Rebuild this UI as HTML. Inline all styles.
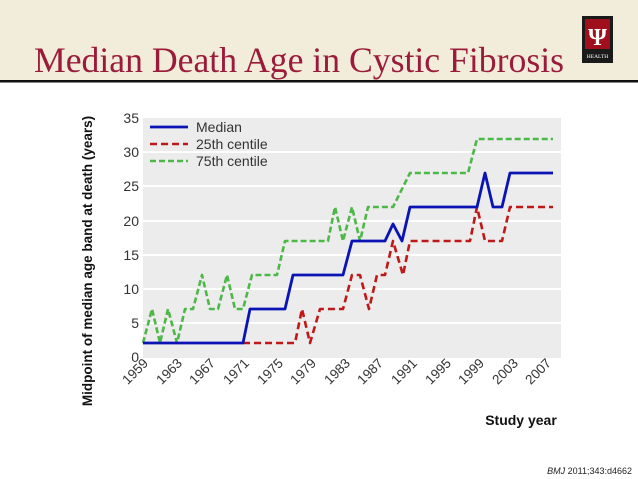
<!DOCTYPE html>
<html><head><meta charset="utf-8"><style>
html,body{margin:0;padding:0;width:638px;height:479px;overflow:hidden;background:#fff;}
</style></head><body>
<svg width="638" height="479" xmlns="http://www.w3.org/2000/svg" style="position:absolute;left:0;top:0">
<rect x="0" y="0" width="638" height="80" fill="#f2ecda"/>
<rect x="0" y="80" width="638" height="2.5" fill="#111"/>
<text x="34" y="72" font-family="Liberation Serif, serif" font-size="35.5" fill="#9b1b3a" textLength="530" lengthAdjust="spacingAndGlyphs">Median Death Age in Cystic Fibrosis</text>
<rect x="582" y="16" width="31" height="47" fill="#1a1a1a"/>
<rect x="585" y="19" width="25" height="30" fill="#a0101c"/>
<text x="597.5" y="45" text-anchor="middle" font-family="Liberation Serif, serif" font-weight="bold" font-size="24" fill="#fff">Ψ</text>
<text x="597.5" y="58" text-anchor="middle" font-family="Liberation Serif, serif" font-size="5.5" fill="#fff">HEALTH</text>

<rect x="143" y="118" width="418" height="240" fill="#ececec"/>
<g stroke="#fff" stroke-width="2">
<line x1="143" x2="561" y1="323" y2="323"/><line x1="143" x2="561" y1="289" y2="289"/>
<line x1="143" x2="561" y1="255" y2="255"/><line x1="143" x2="561" y1="221" y2="221"/>
<line x1="143" x2="561" y1="186" y2="186"/><line x1="143" x2="561" y1="152" y2="152"/>
</g>
<g font-family="Liberation Sans, sans-serif" font-size="14" fill="#333" text-anchor="end">
<text x="139" y="362">0</text><text x="139" y="328">5</text><text x="139" y="294">10</text>
<text x="139" y="260">15</text><text x="139" y="226">20</text><text x="139" y="191">25</text>
<text x="139" y="157">30</text><text x="139" y="123">35</text>
</g>
<g font-family="Liberation Sans, sans-serif" font-size="13.5" fill="#333" text-anchor="end">
<text transform="translate(149,364) rotate(-45)">1959</text>
<text transform="translate(183,364) rotate(-45)">1963</text>
<text transform="translate(216,364) rotate(-45)">1967</text>
<text transform="translate(250,364) rotate(-45)">1971</text>
<text transform="translate(284,364) rotate(-45)">1975</text>
<text transform="translate(317,364) rotate(-45)">1979</text>
<text transform="translate(351,364) rotate(-45)">1983</text>
<text transform="translate(384,364) rotate(-45)">1987</text>
<text transform="translate(418,364) rotate(-45)">1991</text>
<text transform="translate(452,364) rotate(-45)">1995</text>
<text transform="translate(485,364) rotate(-45)">1999</text>
<text transform="translate(519,364) rotate(-45)">2003</text>
<text transform="translate(552,364) rotate(-45)">2007</text>
</g>
<text transform="translate(92,261) rotate(-90)" text-anchor="middle" font-family="Liberation Sans, sans-serif" font-weight="bold" font-size="13.5" fill="#111">Midpoint of median age band at death (years)</text>
<text x="521" y="425" text-anchor="middle" font-family="Liberation Sans, sans-serif" font-weight="bold" font-size="14" fill="#111">Study year</text>
<text x="632" y="474" text-anchor="end" font-family="Liberation Sans, sans-serif" font-size="9" fill="#222"><tspan font-style="italic">BMJ</tspan> 2011;343:d4662</text>

<g fill="none" stroke-width="2.6" stroke-linejoin="round">
<polyline stroke="#4db848" stroke-dasharray="6,3" points="143,343 152,309 160,343 168,309 177,343 185,309 193,309 202,275 210,309 218,309 227,275 235,309 243,309 252,275 277,275 285,241 328,241 335,207 343,241 352,207 360,241 368,207 393,207 410,173 468,173 477,139 553,139"/>
<polyline stroke="#c01818" stroke-dasharray="7,4" points="243,343 295,343 302,309 310,343 320,309 343,309 352,275 360,275 369,309 377,275 385,275 393,241 403,275 410,241 470,241 477,207 485,241 502,241 510,207 553,207"/>
<polyline stroke="#0a14b4" stroke-width="2.8" points="143,343 243,343 250,309 285,309 293,275 343,275 352,241 385,241 393,224 402,241 410,207 477,207 485,173 493,207 502,207 510,173 553,173"/>
<line x1="150" x2="188" y1="127" y2="127" stroke="#0a14b4" stroke-width="2.8"/>
<line x1="150" x2="188" y1="144" y2="144" stroke="#c01818" stroke-dasharray="7,4"/>
<line x1="150" x2="188" y1="161" y2="161" stroke="#4db848" stroke-dasharray="6,3"/>
</g>
<g font-family="Liberation Sans, sans-serif" font-size="14" fill="#333">
<text x="196" y="132">Median</text><text x="196" y="149">25th centile</text><text x="196" y="166">75th centile</text>
</g>
</svg>
</body></html>
